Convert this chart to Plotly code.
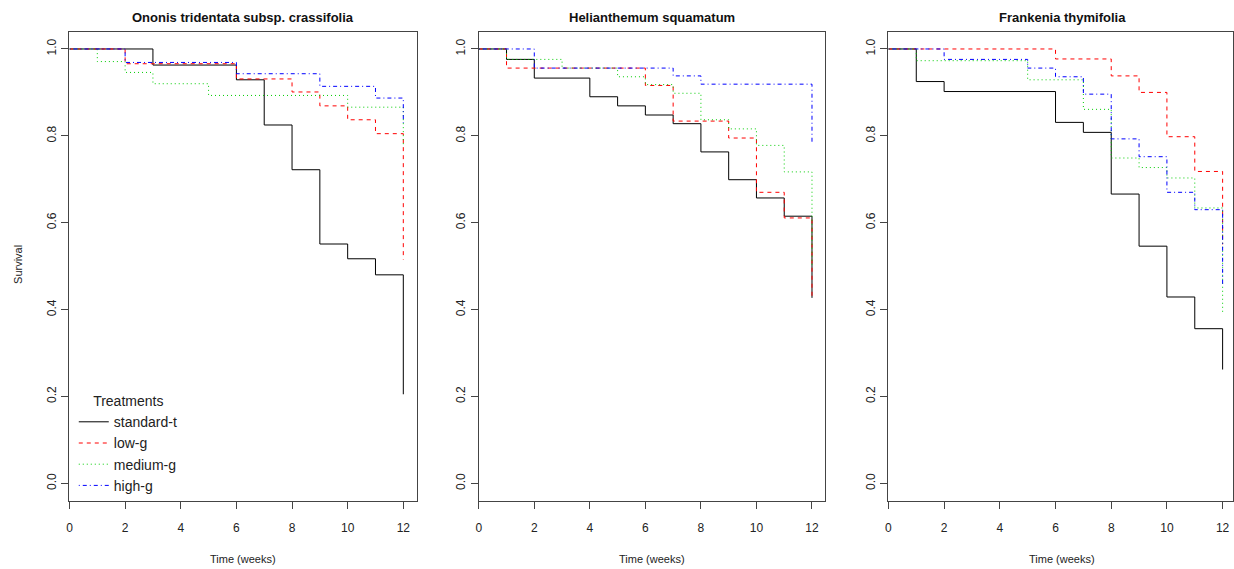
import plotly.graph_objects as go

# ---------------- data ----------------
panel_titles = ["Ononis tridentata subsp. crassifolia", "Helianthemum squamatum", "Frankenia thymifolia"]
treatments = ["standard-t", "low-g", "medium-g", "high-g"]

# Panel 1: Ononis tridentata subsp. crassifolia
p1_std_t = [0, 3, 6, 7, 8, 9, 10, 11, 12]
p1_std_s = [1, 0.963, 0.929, 0.825, 0.722, 0.551, 0.517, 0.480, 0.205]
p1_low_t = [0, 2, 6, 8, 9, 10, 11, 12]
p1_low_s = [1, 0.966, 0.931, 0.901, 0.869, 0.837, 0.805, 0.515]
p1_med_t = [0, 1, 2, 3, 5, 10, 12]
p1_med_s = [1, 0.971, 0.946, 0.920, 0.893, 0.866, 0.78]
p1_high_t = [0, 2, 6, 9, 11, 12]
p1_high_s = [1, 0.969, 0.943, 0.914, 0.887, 0.83]

# Panel 2: Helianthemum squamatum
p2_std_t = [0, 1, 2, 4, 5, 6, 7, 8, 9, 10, 11, 12]
p2_std_s = [1, 0.976, 0.933, 0.890, 0.869, 0.848, 0.828, 0.763, 0.699, 0.657, 0.615, 0.427]
p2_low_t = [0, 1, 6, 7, 9, 10, 11, 12]
p2_low_s = [1, 0.956, 0.916, 0.834, 0.795, 0.670, 0.611, 0.425]
p2_med_t = [0, 1, 3, 5, 6, 7, 8, 9, 10, 11, 12]
p2_med_s = [1, 0.976, 0.956, 0.936, 0.918, 0.898, 0.837, 0.816, 0.778, 0.717, 0.50]
p2_high_t = [0, 2, 7, 8, 12]
p2_high_s = [1, 0.956, 0.938, 0.919, 0.781]

# Panel 3: Frankenia thymifolia
p3_std_t = [0, 1, 2, 6, 7, 8, 9, 10, 11, 12]
p3_std_s = [1, 0.925, 0.902, 0.831, 0.808, 0.666, 0.546, 0.429, 0.356, 0.262]
p3_low_t = [0, 6, 8, 9, 10, 11, 12]
p3_low_s = [1, 0.977, 0.938, 0.900, 0.798, 0.718, 0.55]
p3_med_t = [0, 1, 5, 7, 8, 9, 10, 11, 12]
p3_med_s = [1, 0.973, 0.929, 0.861, 0.749, 0.727, 0.703, 0.634, 0.389]
p3_high_t = [0, 2, 5, 6, 7, 8, 9, 10, 11, 12]
p3_high_s = [1, 0.976, 0.956, 0.936, 0.896, 0.793, 0.752, 0.670, 0.630, 0.454]

x_ticks = [0, 2, 4, 6, 8, 10, 12]
y_ticks = [0.0, 0.2, 0.4, 0.6, 0.8, 1.0]
y_tick_labels = ["0.0", "0.2", "0.4", "0.6", "0.8", "1.0"]

panels = [
    [(p1_std_t, p1_std_s), (p1_low_t, p1_low_s), (p1_med_t, p1_med_s), (p1_high_t, p1_high_s)],
    [(p2_std_t, p2_std_s), (p2_low_t, p2_low_s), (p2_med_t, p2_med_s), (p2_high_t, p2_high_s)],
    [(p3_std_t, p3_std_s), (p3_low_t, p3_low_s), (p3_med_t, p3_med_s), (p3_high_t, p3_high_s)],
]

# ---------------- style ----------------
colors = ["#000000", "#FF0000", "#00CD00", "#0000FF"]
dashes = ["solid", "4px,4px", "1px,3px", "1px,3px,4px,3px"]
FONT = "Liberation Sans, Arial, Helvetica, sans-serif"
W, H = 1234, 569

x_domains = [[66.7 / W, 415 / W], [477.3 / W, 825 / W], [888.3 / W, 1.0]]
x_ranges = [[0, 12.48], [0, 12.48], [0, 12.48 * (W - 888.3) / (1237 - 888.3)]]
y_domain = [1 - 500.7 / H, 1 - 31.6 / H]

fig = go.Figure()
for p, series in enumerate(panels):
    ax = "" if p == 0 else str(p + 1)
    for k, (t, s) in enumerate(series):
        fig.add_trace(go.Scatter(
            x=t, y=s, mode="lines", line_shape="hv",
            line=dict(color=colors[k], width=1, dash=dashes[k]),
            name=treatments[k], legendgroup=treatments[k],
            showlegend=(p == 0),
            xaxis="x" + ax, yaxis="y" + ax,
        ))

axis_common = dict(
    showgrid=False, zeroline=False, showline=True, mirror=True,
    linecolor="#444", linewidth=1, ticks="outside", ticklen=7,
    tickcolor="#444", tickwidth=1,
    tickfont=dict(family=FONT, size=12, color="#222"),
)

layout = dict(
    width=W, height=H,
    margin=dict(l=0, r=0, t=0, b=0),
    paper_bgcolor="white", plot_bgcolor="white",
    font=dict(family=FONT, color="#222"),
    legend=dict(
        x=71 / W, y=1 - 388 / H, xanchor="left", yanchor="top",
        bgcolor="rgba(0,0,0,0)",
        font=dict(family=FONT, size=14, color="#222"),
        title=dict(text="Treatments", side="top center", font=dict(family=FONT, size=14, color="#222")),
        tracegroupgap=0,
    ),
)
for p in range(3):
    ax = "" if p == 0 else str(p + 1)
    layout["xaxis" + ax] = dict(
        axis_common, domain=x_domains[p], range=x_ranges[p],
        tickvals=x_ticks, anchor="y" + ax, ticklabelstandoff=9,
    )
    layout["yaxis" + ax] = dict(
        axis_common, domain=y_domain, range=[-0.04, 1.04],
        tickvals=y_ticks, ticktext=y_tick_labels, tickangle=-90,
        anchor="x" + ax, ticklabelstandoff=1,
    )
fig.update_layout(**layout)

annotations = []
for p in range(3):
    if p == 2:
        cx = (888.3 + 1237) / 2 / W
    else:
        cx = (x_domains[p][0] + x_domains[p][1]) / 2
    annotations.append(dict(
        text="<b>" + panel_titles[p] + "</b>", x=cx, y=1 - 17 / H,
        xref="paper", yref="paper", showarrow=False, xanchor="center", yanchor="middle",
        font=dict(family=FONT, size=13, color="#111"),
    ))
    annotations.append(dict(
        text="Time (weeks)", x=cx, y=1 - 559 / H,
        xref="paper", yref="paper", showarrow=False, xanchor="center", yanchor="middle",
        font=dict(family=FONT, size=11, color="#222"),
    ))
annotations.append(dict(
    text="Survival", x=15 / W, y=1 - 264 / H, textangle=-90,
    xref="paper", yref="paper", showarrow=False, xanchor="center", yanchor="middle",
    font=dict(family=FONT, size=11, color="#222"),
))
fig.update_layout(annotations=annotations)

fig.write_html("out.html", config={"displayModeBar": False},
               post_script="document.body.style.margin='0';")
